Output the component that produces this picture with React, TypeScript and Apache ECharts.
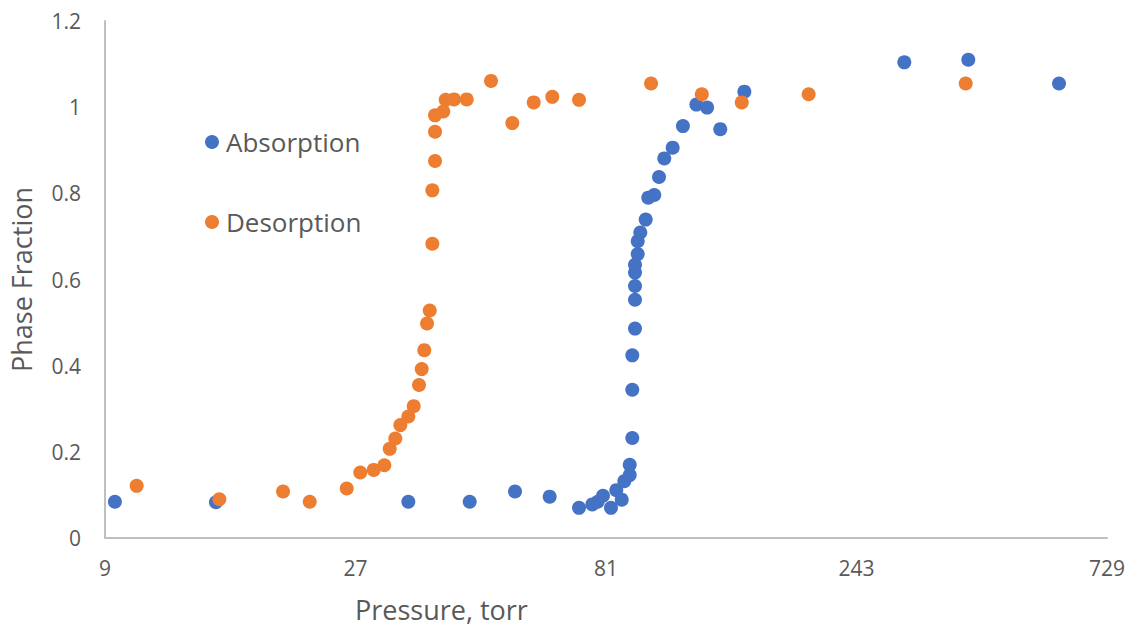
import React, { useEffect, useRef } from "react";
import * as echarts from "echarts";

// Pressure (torr) and phase fraction for the absorption branch
const absorptionPressure = [
  9.4, 14.64, 34.04, 44.55, 54.35, 63.27, 71.96, 76.28, 78.1, 79.94, 82.79,
  84.74, 86.78, 87.77, 89.88, 89.88, 90.9, 90.9, 90.9, 91.99, 91.99, 91.99,
  91.99, 91.99, 93.09, 93.09, 94.16, 96.4, 97.5, 100.1, 102.2, 104.6, 108.5,
  113.5, 120.4, 126.2, 133.7, 148.6, 299.7, 396.8, 590.7,
];
const absorptionFraction = [
  0.084, 0.083, 0.084, 0.084, 0.108, 0.096, 0.07, 0.078, 0.084, 0.098, 0.07,
  0.111, 0.089, 0.132, 0.146, 0.17, 0.232, 0.344, 0.424, 0.486, 0.553, 0.585,
  0.616, 0.634, 0.659, 0.689, 0.709, 0.739, 0.79, 0.796, 0.838, 0.881, 0.906,
  0.956, 1.006, 0.999, 0.949, 1.036, 1.104, 1.11, 1.055,
];

// Pressure (torr) and phase fraction for the desorption branch
const desorptionPressure = [
  10.34, 14.86, 19.65, 22.09, 25.98, 27.57, 29.24, 30.64, 31.37, 32.15, 32.87,
  34.04, 34.85, 35.67, 36.1, 36.51, 36.95, 37.39, 37.82, 37.82, 38.27, 38.27,
  38.27, 39.68, 40.1, 41.59, 43.97, 48.92, 53.71, 58.99, 64.0, 71.96, 98.7,
  123.3, 146.9, 197.0, 392.3,
];
const desorptionFraction = [
  0.121, 0.09, 0.108, 0.084, 0.115, 0.152, 0.158, 0.169, 0.207, 0.231, 0.262,
  0.282, 0.306, 0.355, 0.392, 0.436, 0.498, 0.528, 0.683, 0.807, 0.875, 0.943,
  0.981, 0.99, 1.017, 1.018, 1.018, 1.061, 0.963, 1.011, 1.024, 1.017, 1.055,
  1.03, 1.011, 1.03, 1.055,
];

const xTicks = [9, 27, 81, 243, 729];

const pairs = (xs: number[], ys: number[]) => xs.map((x, i) => [x, ys[i]]);

const FONT = "'Open Sans', sans-serif";
const TEXT = "#595959";
const AXIS = "#BFBFBF";

export default function App() {
  const ref = useRef<HTMLDivElement>(null);

  useEffect(() => {
    if (!ref.current) return;
    const chart = echarts.init(ref.current, undefined, { renderer: "svg" });
    chart.setOption({
      animation: false,
      backgroundColor: "#ffffff",
      textStyle: { fontFamily: FONT, color: TEXT },
      grid: { left: 105, right: 21, top: 21, bottom: 93 },
      legend: {
        orient: "vertical",
        left: 200,
        top: 122,
        itemGap: 50,
        itemWidth: 14,
        itemHeight: 14,
        icon: "circle",
        textStyle: {
          fontFamily: FONT,
          fontSize: 26,
          color: TEXT,
          lineHeight: 30,
          padding: [0, 0, 0, 2],
        },
        data: ["Absorption", "Desorption"],
      },
      xAxis: {
        type: "log",
        logBase: 3,
        min: xTicks[0],
        max: xTicks[xTicks.length - 1],
        axisLine: { show: true, lineStyle: { color: AXIS, width: 2 } },
        axisTick: { show: false },
        splitLine: { show: false },
        minorSplitLine: { show: false },
        axisLabel: {
          fontFamily: FONT,
          fontSize: 21,
          color: TEXT,
          margin: 19,
          formatter: (v: number) => String(Math.round(v)),
        },
      },
      yAxis: {
        type: "value",
        min: 0,
        max: 1.2,
        interval: 0.2,
        name: "Phase Fraction",
        nameLocation: "middle",
        nameGap: 70,
        nameTextStyle: { fontFamily: FONT, fontSize: 27, color: TEXT },
        axisLine: { show: true, lineStyle: { color: AXIS, width: 2 } },
        axisTick: { show: false },
        splitLine: { show: false },
        axisLabel: {
          fontFamily: FONT,
          fontSize: 21,
          color: TEXT,
          margin: 24,
          formatter: (v: number) => String(Math.round(v * 10) / 10),
        },
      },
      graphic: [
        {
          type: "text",
          left: 443 - 88,
          top: 596,
          style: {
            text: "Pressure, torr",
            font: `27px ${FONT}`,
            fill: TEXT,
          },
        },
      ],
      series: [
        {
          name: "Absorption",
          type: "scatter",
          symbol: "circle",
          symbolSize: 14,
          itemStyle: { color: "#4472C4", opacity: 1 },
          data: pairs(absorptionPressure, absorptionFraction),
        },
        {
          name: "Desorption",
          type: "scatter",
          symbol: "circle",
          symbolSize: 14,
          itemStyle: { color: "#ED7D31", opacity: 1 },
          data: pairs(desorptionPressure, desorptionFraction),
        },
      ],
    });
    return () => chart.dispose();
  }, []);

  return (
    <div
      ref={ref}
      style={{ position: "fixed", left: 0, top: 0, width: 1128, height: 631 }}
    />
  );
}
